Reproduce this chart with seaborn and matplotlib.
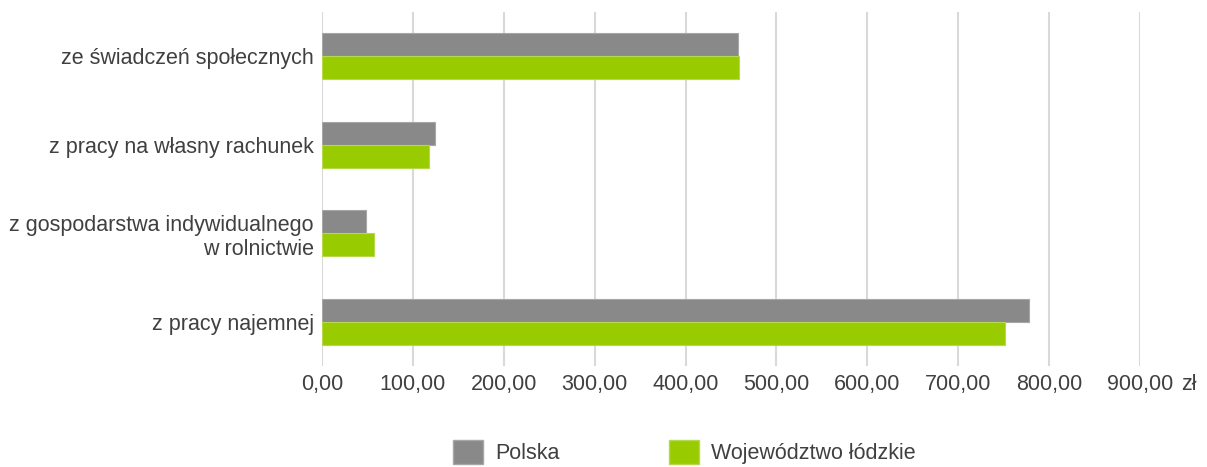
import pandas as pd
import matplotlib
matplotlib.use("Agg")
import matplotlib.pyplot as plt
from matplotlib.patches import Patch
import seaborn as sns

categories = [
    "ze świadczeń społecznych",
    "z pracy na własny rachunek",
    "z gospodarstwa indywidualnego\nw rolnictwie",
    "z pracy najemnej",
]
series_names = ["Polska", "Województwo łódzkie"]
polska = [458.2, 123.8, 48.0, 778.0]
lodzkie = [459.0, 118.0, 57.1, 752.0]
x_ticks = [0, 100, 200, 300, 400, 500, 600, 700, 800, 900]
colors = ["#898989", "#99cc00"]
edge_colors = ["#a6a6a6", "#b5d84d"]

df = pd.DataFrame({
    "kategoria": categories * 2,
    "seria": [series_names[0]] * 4 + [series_names[1]] * 4,
    "wartosc": polska + lodzkie,
})

sns.set_style("white")
plt.rcParams["font.family"] = ["Liberation Sans", "DejaVu Sans"]
FS = 15.5

fig = plt.figure(figsize=(12.07, 4.67), dpi=100)
ax = fig.add_axes([0.2668, 0.216, 0.9445 - 0.2668, 0.974 - 0.216])

sns.barplot(data=df, x="wartosc", y="kategoria", hue="seria", order=categories,
            hue_order=series_names, palette=colors, saturation=1, width=0.52,
            orient="h", legend=False, ax=ax, zorder=3)

for patch, ec in zip(ax.patches, [edge_colors[0]] * 4 + [edge_colors[1]] * 4):
    patch.set_edgecolor(ec)
    patch.set_linewidth(0.8)

ax.set_xlim(0, 900)
ax.set_ylim(3.5, -0.5)
ax.set_xticks(x_ticks)
ax.set_xticklabels([f"{v:.2f}".replace(".", ",") for v in x_ticks])
ax.set_xlabel("")
ax.set_ylabel("")
ax.grid(axis="x", color="#d9d9d9", linewidth=1.5, zorder=0)
ax.set_axisbelow(True)
for s in ax.spines.values():
    s.set_visible(False)
ax.tick_params(axis="x", length=0, pad=6, labelsize=FS, labelcolor="#404040")
ax.tick_params(axis="y", length=0, pad=6, labelsize=FS, labelcolor="#404040")
for lbl in ax.get_yticklabels():
    lbl.set_multialignment("right")

ax.annotate("zł", xy=(945, 0), xycoords=ax.get_xaxis_transform(),
            xytext=(0, -6), textcoords="offset points", ha="left", va="top",
            fontsize=FS, color="#404040", annotation_clip=False)

handles = [Patch(facecolor=colors[i], edgecolor=edge_colors[i], label=series_names[i])
           for i in range(2)]
fig.legend(handles=handles, loc="center", bbox_to_anchor=(0.567, 0.032), ncol=2,
           frameon=False, fontsize=FS, handlelength=1.4, handleheight=1.4,
           handletextpad=0.55, columnspacing=5.1, labelcolor="#404040",
           borderpad=0)

fig.savefig("out.png", dpi=100)
